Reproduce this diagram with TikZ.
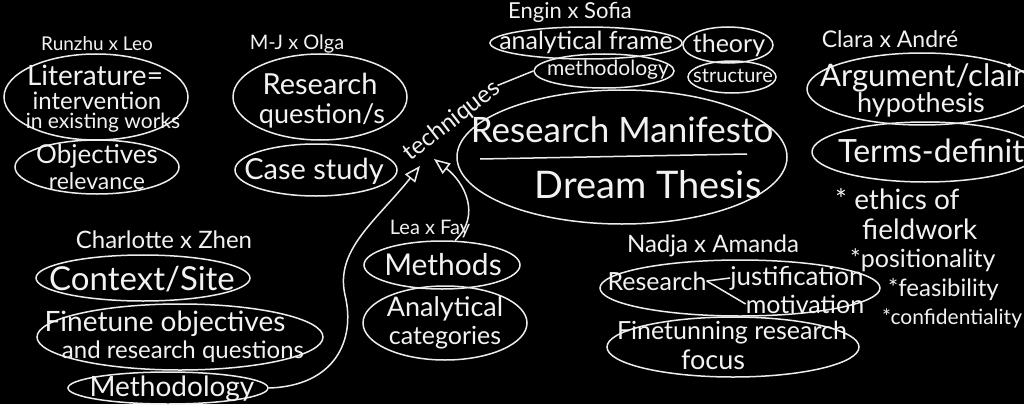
\documentclass[tikz,border=0pt]{standalone}
\usepackage{fontspec}
\setmainfont{Lato}
\usetikzlibrary{shapes.geometric,arrows.meta}
\begin{document}
\begin{tikzpicture}[x=1pt,y=-1pt,
  chalk/.style={draw=white!93!black, line width=1.5pt},
  oval/.style={chalk, ellipse, inner sep=0pt},
  txt/.style={text=white!95!black, inner sep=0pt, align=center},
  fs/.style={font=\fontsize{#1}{#1}\selectfont},
  arr/.style={chalk, -{Triangle[open, length=16pt, width=13pt, line width=1.5pt]}}
]
\fill[black] (0,0) rectangle (1024,404);
\useasboundingbox (0,0) rectangle (1024,404);
\clip (0,0) rectangle (1024,404);

% ---------- Runzhu x Leo ----------
\node[txt, fs=19] (n_rl) at (97,44) {Runzhu x Leo};
\node[oval, minimum width=184pt, minimum height=86pt] (e_lit) at (96,97) {};
\node[txt, fs=28] (t_lit1) at (95,75) {Literature=};
\node[txt, fs=24] (t_lit2) at (97,101) {intervention};
\node[txt, fs=21] (t_lit3) at (103,123) {in existing works};
\node[oval, minimum width=164pt, minimum height=54pt] (e_obj) at (97,167) {};
\node[txt, fs=26] (t_obj1) at (97,156) {Objectives};
\node[txt, fs=23] (t_obj2) at (97,181) {relevance};

% ---------- M-J x Olga ----------
\node[txt, fs=20] (n_mo) at (297,44) {M-J x Olga};
\node[oval, minimum width=174pt, minimum height=86pt] (e_rq) at (320,97) {};
\node[txt, fs=29] (t_rq1) at (320,84) {Research};
\node[txt, fs=27] (t_rq2) at (322,116) {question/s};
\node[oval, minimum width=162pt, minimum height=52pt] (e_case) at (316,170) {};
\node[txt, fs=29] (t_case) at (314,171) {Case study};

% ---------- Engin x Sofia ----------
\node[txt, fs=22] (n_es) at (570,12) {Engin x Sofia};
\node[oval, minimum width=192pt, minimum height=32pt] (e_af) at (586,43) {};
\node[txt, fs=25] (t_af) at (586,42) {analytical frame};
\node[oval, minimum width=140pt, minimum height=34pt] (e_meth) at (604,71) {};
\node[txt, fs=21] (t_meth) at (608,70) {methodology};
\node[oval, minimum width=90pt, minimum height=36pt] (e_th) at (728,45) {};
\node[txt, fs=25] (t_th) at (729,45) {theory};
\node[oval, minimum width=88pt, minimum height=32pt] (e_st) at (732,77) {};
\node[txt, fs=20] (t_st) at (733,76) {structure};

% ---------- Research Manifesto ----------
\node[oval, minimum width=330pt, minimum height=134pt] (e_rm) at (622,157) {};
\node[txt, fs=35] (t_rm1) at (622,130) {Research Manifesto};
\node[txt, fs=38] (t_rm2) at (648,185) {Dream Thesis};
\draw[chalk] (480,159) -- (747,154);

% ---------- techniques ----------
\node[txt, fs=24, rotate=38] (t_tech) at (452,121) {techniques};
\draw[chalk] (t_tech.east) -- (e_meth.west);

% ---------- Clara x Andre ----------
\node[txt, fs=23] (n_ca) at (890,39) {Clara x André};
\node[oval, minimum width=230pt, minimum height=72pt] (e_arg) at (922,89) {};
\node[txt, fs=31, anchor=west] (t_arg1) at (820,78) {Argument/claim};
\node[txt, fs=27] (t_arg2) at (921,105) {hypothesis};
\node[oval, minimum width=226pt, minimum height=60pt] (e_terms) at (925,152) {};
\node[txt, fs=32, anchor=west] (t_terms) at (838,151) {Terms-definition};
\node[txt, fs=28, anchor=west] (t_eth1) at (835,199) {* ethics of};
\node[txt, fs=28, anchor=west] (t_eth2) at (862,229) {fieldwork};
\node[txt, fs=25, anchor=west] (t_pos) at (850,260) {*positionality};
\node[txt, fs=24, anchor=west] (t_fea) at (888,290) {*feasibility};
\node[txt, fs=21, anchor=west] (t_con) at (882,318) {*confidentiality};

% ---------- Charlotte x Zhen ----------
\node[txt, fs=24] (n_cz) at (164,240) {Charlotte x Zhen};
\node[oval, minimum width=214pt, minimum height=46pt] (e_ctx) at (143,278) {};
\node[txt, fs=33] (t_ctx) at (142,279) {Context/Site};
\node[oval, minimum width=286pt, minimum height=66pt] (e_fine) at (180,337) {};
\node[txt, fs=28] (t_fine1) at (165,324) {Finetune objectives};
\node[txt, fs=24] (t_fine2) at (183,352) {and research questions};
\node[oval, minimum width=200pt, minimum height=32pt] (e_meth2) at (168,388) {};
\node[txt, fs=28] (t_meth2) at (172,389) {Methodology};

% ---------- Lea x Fay ----------
\node[txt, fs=20] (n_lf) at (430,229) {Lea x Fay};
\node[oval, minimum width=156pt, minimum height=48pt] (e_mths) at (442,265) {};
\node[txt, fs=30] (t_mths) at (443,265) {Methods};
\node[oval, minimum width=164pt, minimum height=74pt] (e_anal) at (445,323) {};
\node[txt, fs=27] (t_anal1) at (445,309) {Analytical};
\node[txt, fs=25] (t_anal2) at (445,338) {categories};

% ---------- Nadja x Amanda ----------
\node[txt, fs=24] (n_na) at (713,246) {Nadja x Amanda};
\node[oval, minimum width=280pt, minimum height=56pt] (e_just) at (740,288) {};
\node[txt, fs=25] (t_res) at (657,281) {Research};
\node[txt, fs=26] (t_just) at (797,278) {justification};
\node[txt, fs=25] (t_mot) at (805,304) {motivation};
\draw[chalk] (t_res.east) -- (t_just.west);
\draw[chalk] (t_res.east) -- (t_mot.west);
\node[oval, minimum width=252pt, minimum height=60pt] (e_focus) at (733,347) {};
\node[txt, fs=25] (t_focus1) at (732,333) {Finetunning research};
\node[txt, fs=27] (t_focus2) at (713,360) {focus};

% ---------- arrows ----------
\coordinate (tipA) at (420,166);
\coordinate (tipB) at (434,159);
\draw[arr] (e_meth2.east) .. controls (335,386) and (356,340) .. (345,295)
  .. controls (335,250) and (375,222) .. (tipA);
\draw[arr] (e_mths.62) .. controls (482,215) and (464,182) .. (tipB);
\end{tikzpicture}
\end{document}
